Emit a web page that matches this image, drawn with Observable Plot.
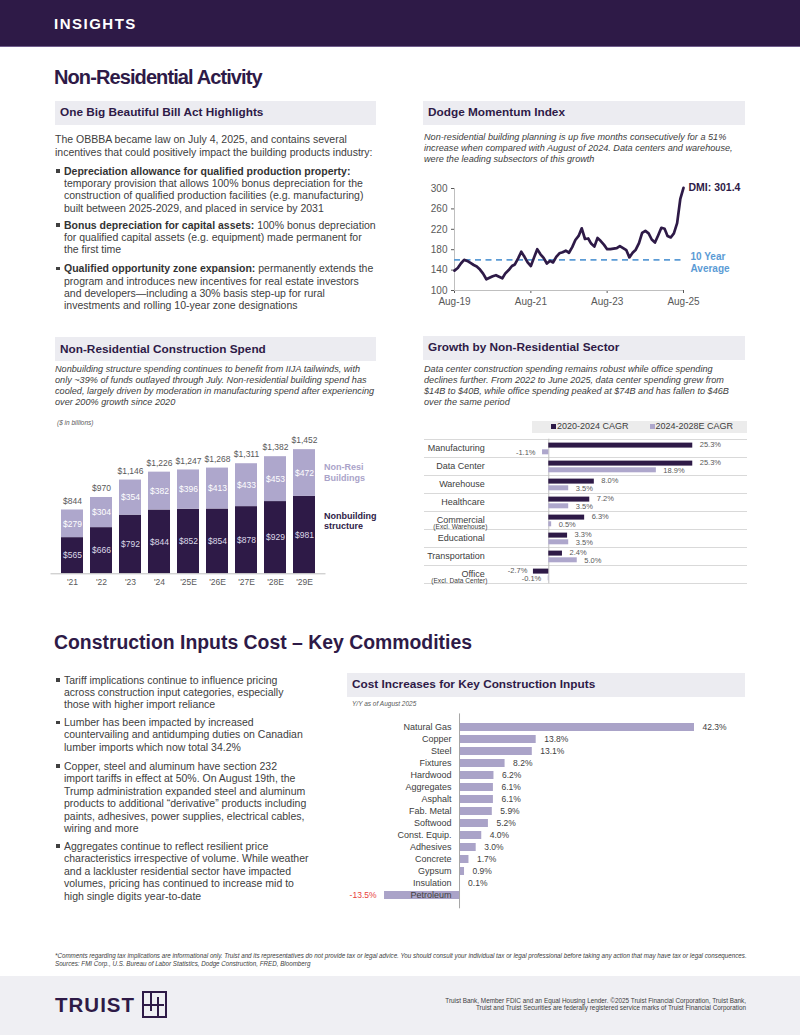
<!DOCTYPE html>
<html><head><meta charset="utf-8">
<script src="https://cdn.jsdelivr.net/npm/d3@7"></script>
<script src="https://cdn.jsdelivr.net/npm/@observablehq/plot@0.6"></script>
<style>
html,body{margin:0;padding:0;background:#fff;}
body{width:800px;height:1035px;position:relative;overflow:hidden;font-family:"Liberation Sans",Arial,Helvetica,sans-serif;color:#404040;}
.abs{position:absolute;white-space:nowrap;}
.band{position:absolute;left:0;top:0;width:800px;height:46px;background:#2e1a47;border-bottom:1.5px solid #6f5c8c;}
.insights{left:54px;top:15px;color:#fff;font-weight:bold;font-size:15px;letter-spacing:1.5px;line-height:18px;}
.h1{font-weight:bold;color:#2e1a47;line-height:20px;}
.hbox{position:absolute;background:#ececf1;}
.hbox span{position:absolute;left:5px;top:0;font-weight:bold;font-size:11.8px;color:#2e1a47;white-space:nowrap;}
.body{font-size:10.5px;line-height:12.4px;color:#404040;}
.body b{color:#333;}
.sq{position:absolute;width:3.5px;height:3.5px;background:#404040;}
.sub{font-style:italic;font-size:9.15px;color:#404040;}
.chart{position:absolute;}
.chart svg{overflow:visible;}
.leg{font-weight:bold;font-size:9px;line-height:11px;}
.foot{position:absolute;left:0;top:976px;width:800px;height:59px;background:#efeff3;}
.logo{position:absolute;background:#2e1a47;}
</style>
</head><body>

<div class="band"></div>
<div class="abs insights">INSIGHTS</div>
<div class="abs h1" style="left:54px;top:66.5px;font-size:20px;letter-spacing:-0.9px;">Non-Residential Activity</div>

<!-- OBBBA -->
<div class="hbox" style="left:55px;top:101px;width:321px;height:23.5px;"><span style="line-height:23.5px;">One Big Beautiful Bill Act Highlights</span></div>
<div class="abs body" style="left:55px;top:132.8px;line-height:13px;">The OBBBA became law on July 4, 2025, and contains several<br>incentives that could positively impact the building products industry:</div>
<div class="sq" style="left:56px;top:169px;"></div>
<div class="abs body" style="left:64px;top:164.5px;"><b>Depreciation allowance for qualified production property:</b><br>temporary provision that allows 100% bonus depreciation for the<br>construction of qualified production facilities (e.g. manufacturing)<br>built between 2025-2029, and placed in service by 2031</div>
<div class="sq" style="left:56px;top:223px;"></div>
<div class="abs body" style="left:64px;top:218.5px;"><b>Bonus depreciation for capital assets:</b> 100% bonus depreciation<br>for qualified capital assets (e.g. equipment) made permanent for<br>the first time</div>
<div class="sq" style="left:56px;top:266.6px;"></div>
<div class="abs body" style="left:64px;top:262.1px;"><b>Qualified opportunity zone expansion:</b> permanently extends the<br>program and introduces new incentives for real estate investors<br>and developers—including a 30% basis step-up for rural<br>investments and rolling 10-year zone designations</div>

<!-- Dodge -->
<div class="hbox" style="left:423px;top:101px;width:322px;height:23.5px;"><span style="line-height:23.5px;">Dodge Momentum Index</span></div>
<div class="abs sub" style="left:424px;top:132.4px;line-height:10.65px;">Non-residential building planning is up five months consecutively for a 51%<br>increase when compared with August of 2024. Data centers and warehouse,<br>were the leading subsectors of this growth</div>
<div id="chartA" class="chart" style="left:410px;top:175px;"></div>

<!-- Spend -->
<div class="hbox" style="left:55px;top:336.7px;width:321px;height:24px;"><span style="line-height:24px;">Non-Residential Construction Spend</span></div>
<div class="abs sub" style="left:55px;top:363.7px;line-height:11.2px;">Nonbuilding structure spending continues to benefit from IIJA tailwinds, with<br>only ~39% of funds outlayed through July. Non-residential building spend has<br>cooled, largely driven by moderation in manufacturing spend after experiencing<br>over 200% growth since 2020</div>
<div class="abs" style="left:57px;top:419px;font-size:6.5px;font-style:italic;color:#595959;line-height:8px;">($ in billions)</div>
<div id="chartB" class="chart" style="left:40px;top:420px;"></div>
<div class="abs leg" style="left:324px;top:461.5px;color:#aaa3c9;">Non-Resi<br>Buildings</div>
<div class="abs leg" style="left:324px;top:510.5px;color:#2e1a47;line-height:10.7px;">Nonbuilding<br>structure</div>

<!-- Growth -->
<div class="hbox" style="left:423px;top:336.3px;width:322px;height:23.5px;"><span style="line-height:23.5px;">Growth by Non-Residential Sector</span></div>
<div class="abs sub" style="left:424px;top:363.7px;line-height:11.2px;">Data center construction spending remains robust while office spending<br>declines further. From 2022 to June 2025, data center spending grew from<br>$14B to $40B, while office spending peaked at $74B and has fallen to $46B<br>over the same period</div>
<div class="abs" style="left:532px;top:421px;width:215px;height:11.5px;background:#ececec;"></div>
<div id="legC" class="abs" style="left:551px;top:421px;font-size:9px;line-height:11.5px;color:#404040;"></div>
<div id="chartC" class="chart" style="left:410px;top:436px;"></div>

<!-- Commodities -->
<div class="abs h1" style="left:54px;top:632.3px;font-size:19.4px;">Construction Inputs Cost – Key Commodities</div>
<div class="sq" style="left:56px;top:678.2px;"></div>
<div class="abs body" style="left:64px;top:673.8px;line-height:12.35px;">Tariff implications continue to influence pricing<br>across construction input categories, especially<br>those with higher import reliance</div>
<div class="sq" style="left:56px;top:720.5px;"></div>
<div class="abs body" style="left:64px;top:716.1px;line-height:12.35px;">Lumber has been impacted by increased<br>countervailing and antidumping duties on Canadian<br>lumber imports which now total 34.2%</div>
<div class="sq" style="left:56px;top:764.2px;"></div>
<div class="abs body" style="left:64px;top:759.8px;line-height:12.45px;">Copper, steel and aluminum have section 232<br>import tariffs in effect at 50%. On August 19th, the<br>Trump administration expanded steel and aluminum<br>products to additional “derivative” products including<br>paints, adhesives, power supplies, electrical cables,<br>wiring and more</div>
<div class="sq" style="left:56px;top:844.2px;"></div>
<div class="abs body" style="left:64px;top:839.8px;line-height:12.5px;">Aggregates continue to reflect resilient price<br>characteristics irrespective of volume. While weather<br>and a lackluster residential sector have impacted<br>volumes, pricing has continued to increase mid to<br>high single digits year-to-date</div>

<div class="hbox" style="left:347px;top:673.3px;width:398px;height:23.5px;"><span style="line-height:23.5px;">Cost Increases for Key Construction Inputs</span></div>
<div class="abs" style="left:352px;top:700px;font-size:6.5px;font-style:italic;color:#595959;line-height:8px;">Y/Y as of August 2025</div>
<div id="chartD" class="chart" style="left:340px;top:710px;"></div>

<!-- Footer -->
<div class="abs" style="left:55px;top:952px;font-size:6.3px;font-style:italic;color:#404040;line-height:8px;transform:scaleX(0.99);transform-origin:0 0;">*Comments regarding tax implications are informational only. Truist and its representatives do not provide tax or legal advice. You should consult your individual tax or legal professional before taking any action that may have tax or legal consequences.<br>Sources: FMI Corp., U.S. Bureau of Labor Statistics, Dodge Construction, FRED, Bloomberg</div>
<div class="foot"></div>
<div class="abs" style="left:55px;top:992.5px;font-size:20.5px;font-weight:bold;letter-spacing:1px;color:#2e1a47;line-height:24px;">TRUIST</div>
<div class="abs" style="left:142px;top:991px;width:21px;height:23px;border:2px solid #2e1a47;"></div>
<div class="logo" style="left:149.5px;top:992px;width:2px;height:19px;"></div>
<div class="logo" style="left:156.5px;top:997px;width:2px;height:19px;"></div>
<div class="logo" style="left:143px;top:1003.5px;width:21px;height:2px;"></div>
<div class="abs" style="right:54px;top:996.5px;font-size:6.38px;color:#404040;line-height:7.5px;text-align:right;">Truist Bank, Member FDIC and an Equal Housing Lender. ©2025 Truist Financial Corporation, Truist Bank,<br>Truist and Truist Securities are federally registered service marks of Truist Financial Corporation</div>

<script>
// ================= DATA =================
// Dodge Momentum Index, monthly Aug-2019 .. Aug-2025
const dmiStart = "2019-08-01";
const dmiValues = [139,144,153,160,158,154,150,147,141,133,
  122,125,128,130,127,124,134,140,148,151,
  163,176,166,155,148,165,181,171,164,153,
  158,155,166,173,175,178,174,185,199,207,
  222,201,202,192,186,203,197,190,181,181,
  182,183,187,183,179,165,174,180,193,213,
  217,212,200,194,208,223,221,207,204,212,
  232,279,301.4];
const dmiTenYearAvg = 160;
const dmiYTicks = [100,140,180,220,260,300];
const dmiXTicks = ["2019-08-01","2021-08-01","2023-08-01","2025-08-01"];
const dmiAvgLabel = "10 Year\nAverage";

// Non-residential construction spend ($ bn)
const spendYears = ["'21","'22","'23","'24","'25E","'26E","'27E","'28E","'29E"];
const spendNonbuilding = [565,666,792,844,852,854,878,929,981];
const spendNonResi = [279,304,354,382,396,413,433,453,472];
const spendTotals = [844,970,1146,1226,1247,1268,1311,1382,1452];
const spendSeries = ["Nonbuilding structure","Non-Resi Buildings"];
const spendAxisMin = 200;
const spendAxisMax = 1500;

// Growth by sector (CAGR %)
const sectorNames = ["Manufacturing","Data Center","Warehouse","Healthcare","Commercial","Educational","Transportation","Office"];
const sectorSubLabels = ["","","","","(Excl. Warehouse)","","","(Excl. Data Center)"];
const cagr2020to2024 = [25.3,25.3,8.0,7.2,6.3,3.3,2.4,-2.7];
const cagr2024to2028E = [-1.1,18.9,3.5,3.5,0.5,3.5,5.0,-0.1];
const cagrSeries = ["2020-2024 CAGR","2024-2028E CAGR"];

// Cost increases for key construction inputs (Y/Y %)
const inputNames = ["Natural Gas","Copper","Steel","Fixtures","Hardwood","Aggregates","Asphalt","Fab. Metal","Softwood","Const. Equip.","Adhesives","Concrete","Gypsum","Insulation","Petroleum"];
const inputChanges = [42.3,13.8,13.1,8.2,6.2,6.1,6.1,5.9,5.2,4.0,3.0,1.7,0.9,0.1,-13.5];

// ================= STYLE =================
const FONT = '"Liberation Sans", Arial, Helvetica, sans-serif';
const DARK = "#2e1a47";
const LIGHT = "#aea7cc";
const GRID = "#d9d9d9";
const AXIS = "#bfbfbf";
const pct = v => (v < 0 ? "-" : "") + Math.abs(v).toFixed(1) + "%";
const baseStyle = (fs) => ({fontFamily: FONT, fontSize: fs, color: "#595959", background: "none", overflow: "visible"});

// ================= CHART A: DMI =================
const dmiDates = d3.utcMonth.range(new Date(dmiStart), d3.utcMonth.offset(new Date(dmiStart), dmiValues.length));
const dmiData = dmiValues.map((v, i) => ({date: dmiDates[i], value: v}));
const dmiLast = dmiData[dmiData.length - 1];
const chartA = Plot.plot({
  width: 345, height: 135,
  marginLeft: 44, marginRight: 72, marginTop: 13, marginBottom: 20,
  style: baseStyle("10px"),
  x: {type: "utc", domain: [dmiDates[0], dmiLast.date], label: null},
  y: {domain: [100, 300], label: null},
  marks: [
    Plot.axisY({ticks: dmiYTicks, tickSize: 3, tickPadding: 4, label: null}),
    Plot.axisX({ticks: dmiXTicks.map(d => new Date(d)), tickFormat: d3.utcFormat("%b-%y"), tickSize: 3, tickPadding: 4, label: null}),
    Plot.ruleX([dmiDates[0]], {stroke: AXIS}),
    Plot.ruleY([100], {stroke: AXIS}),
    Plot.ruleY([dmiTenYearAvg], {stroke: "#5b9bd5", strokeWidth: 1.6, strokeDasharray: "6,4.5"}),
    Plot.line(dmiData, {x: "date", y: "value", stroke: DARK, strokeWidth: 2.7, strokeLinejoin: "round"}),
    Plot.text([dmiLast], {x: "date", y: "value", text: d => `DMI: ${d.value}`, textAnchor: "start", dx: 5, fontWeight: "bold", fontSize: 10.5, fill: DARK}),
    Plot.text([dmiTenYearAvg], {y: d => d, frameAnchor: "right", text: () => dmiAvgLabel, textAnchor: "start", dx: 7, dy: 2, fill: "#5b9bd5", fontWeight: "bold", fontSize: 10, lineHeight: 1.2})
  ]
});
document.getElementById("chartA").append(chartA);

// ================= CHART B: Spend =================
const spendRows = spendYears.flatMap((yr, i) => [
  {year: yr, series: spendSeries[0], value: spendNonbuilding[i]},
  {year: yr, series: spendSeries[1], value: spendNonResi[i]}
]);
const spendLabels = spendYears.flatMap((yr, i) => [
  {year: yr, series: spendSeries[0], mid: (spendAxisMin + spendNonbuilding[i]) / 2, text: "$" + spendNonbuilding[i]},
  {year: yr, series: spendSeries[1], mid: spendNonbuilding[i] + spendNonResi[i] / 2, text: "$" + spendNonResi[i]}
]);
const spendTotalRows = spendYears.map((yr, i) => ({year: yr, total: spendTotals[i]}));
const chartB = Plot.plot({
  width: 370, height: 170,
  marginLeft: 10.5, marginRight: 84.5, marginTop: 24.5, marginBottom: 16.7,
  style: baseStyle("8.5px"),
  x: {domain: spendYears, padding: 0.23, label: null, tickSize: 0, tickPadding: 5},
  y: {domain: [spendAxisMin, spendAxisMax], axis: null},
  color: {domain: spendSeries, range: [DARK, LIGHT]},
  marks: [
    Plot.barY(spendRows, {x: "year", y: "value", fill: "series", clip: true}),
    Plot.ruleY([spendAxisMin], {stroke: AXIS}),
    Plot.text(spendLabels, {filter: d => d.series === spendSeries[0], x: "year", y: "mid", text: "text", fill: "#dcd8e8", fontSize: 8.5}),
    Plot.text(spendLabels, {filter: d => d.series === spendSeries[1], x: "year", y: "mid", text: "text", fill: "#ffffff", fontSize: 8.5}),
    Plot.text(spendTotalRows, {x: "year", y: "total", text: d => "$" + d3.format(",")(d.total), dy: -9, fill: "#595959", fontSize: 8.5})
  ]
});
document.getElementById("chartB").append(chartB);

// ================= CHART C: Growth =================
const legC = document.getElementById("legC");
legC.innerHTML = `<span style="display:inline-block;width:5px;height:5px;background:${DARK};margin-right:1px;"></span>${cagrSeries[0]}` +
  `<span style="display:inline-block;width:5px;height:5px;background:${LIGHT};margin:0 1px 0 21px;"></span>${cagrSeries[1]}`;

const sectorRows = sectorNames.map((s, i) => ({sector: s, sub: sectorSubLabels[i], a: cagr2020to2024[i], b: cagr2024to2028E[i]}));
const chartC = Plot.plot({
  width: 345, height: 150,
  marginLeft: 109.85, marginRight: 36, marginTop: 2.7, marginBottom: 2.7,
  style: baseStyle("9px"),
  x: {domain: [-5, 30], axis: null},
  y: {domain: sectorNames, padding: 0, axis: null},
  marks: [
    Plot.ruleY(sectorRows, {y: "sector", dy: -9, stroke: GRID, insetLeft: -95.85, insetRight: -28}),
    Plot.ruleY(sectorRows.slice(-1), {y: "sector", dy: 9, stroke: GRID, insetLeft: -95.85, insetRight: -28}),
    Plot.ruleX([0], {stroke: AXIS}),
    Plot.barX(sectorRows, {y: "sector", x: "a", fill: DARK, insetTop: 3.6, insetBottom: 9.4}),
    Plot.barX(sectorRows, {y: "sector", x: "b", fill: LIGHT, insetTop: 10.3, insetBottom: 2.7}),
    Plot.text(sectorRows, {filter: d => d.a >= 0, y: "sector", x: "a", text: d => pct(d.a), textAnchor: "start", dx: 7, dy: -3.5, fontSize: 7.5, fill: "#595959"}),
    Plot.text(sectorRows, {filter: d => d.a < 0, y: "sector", x: "a", text: d => pct(d.a), textAnchor: "end", dx: -6, dy: -3.5, fontSize: 7.5, fill: "#595959"}),
    Plot.text(sectorRows, {filter: d => d.b >= 0, y: "sector", x: "b", text: d => pct(d.b), textAnchor: "start", dx: 7, dy: 4, fontSize: 7.5, fill: "#595959"}),
    Plot.text(sectorRows, {filter: d => d.b < 0, y: "sector", x: "b", text: d => pct(d.b), textAnchor: "end", dx: -7, dy: 4, fontSize: 7.5, fill: "#595959"}),
    Plot.text(sectorRows, {filter: d => !d.sub, y: "sector", text: "sector", frameAnchor: "left", textAnchor: "end", dx: -35.5, fill: "#404040", fontSize: 9}),
    Plot.text(sectorRows, {filter: d => d.sub, y: "sector", text: "sector", frameAnchor: "left", textAnchor: "end", dx: -35.5, dy: -0.8, fill: "#404040", fontSize: 9}),
    Plot.text(sectorRows, {filter: d => d.sub, y: "sector", text: "sub", frameAnchor: "left", textAnchor: "end", dx: -33, dy: 6.4, fill: "#404040", fontSize: 6.6})
  ]
});
document.getElementById("chartC").append(chartC);

// ================= CHART D: Input costs =================
const inputRows = inputNames.map((n, i) => ({name: n, change: inputChanges[i]}));
const chartD = Plot.plot({
  width: 420, height: 200,
  marginLeft: 35.7, marginRight: 51, marginTop: 3.4, marginBottom: 1.7,
  style: baseStyle("9px"),
  x: {domain: [-15, 45], axis: null},
  y: {domain: inputNames, padding: 0.3, axis: null},
  marks: [
    Plot.barX(inputRows, {y: "name", x: "change", fill: "#aaa3c8"}),
    Plot.ruleX([0], {stroke: "#a6a6a6"}),
    Plot.text(inputRows, {y: "name", text: "name", frameAnchor: "left", textAnchor: "end", dx: 75.3, fill: "#404040", fontSize: 9}),
    Plot.text(inputRows, {filter: d => d.change >= 0, y: "name", x: "change", text: d => pct(d.change), textAnchor: "start", dx: 8, fill: "#404040", fontSize: 8.5}),
    Plot.text(inputRows, {filter: d => d.change < 0, y: "name", x: "change", text: d => pct(d.change), textAnchor: "end", dx: -8, fill: "#e8403a", fontSize: 8.5})
  ]
});
document.getElementById("chartD").append(chartD);
</script>
</body></html>
